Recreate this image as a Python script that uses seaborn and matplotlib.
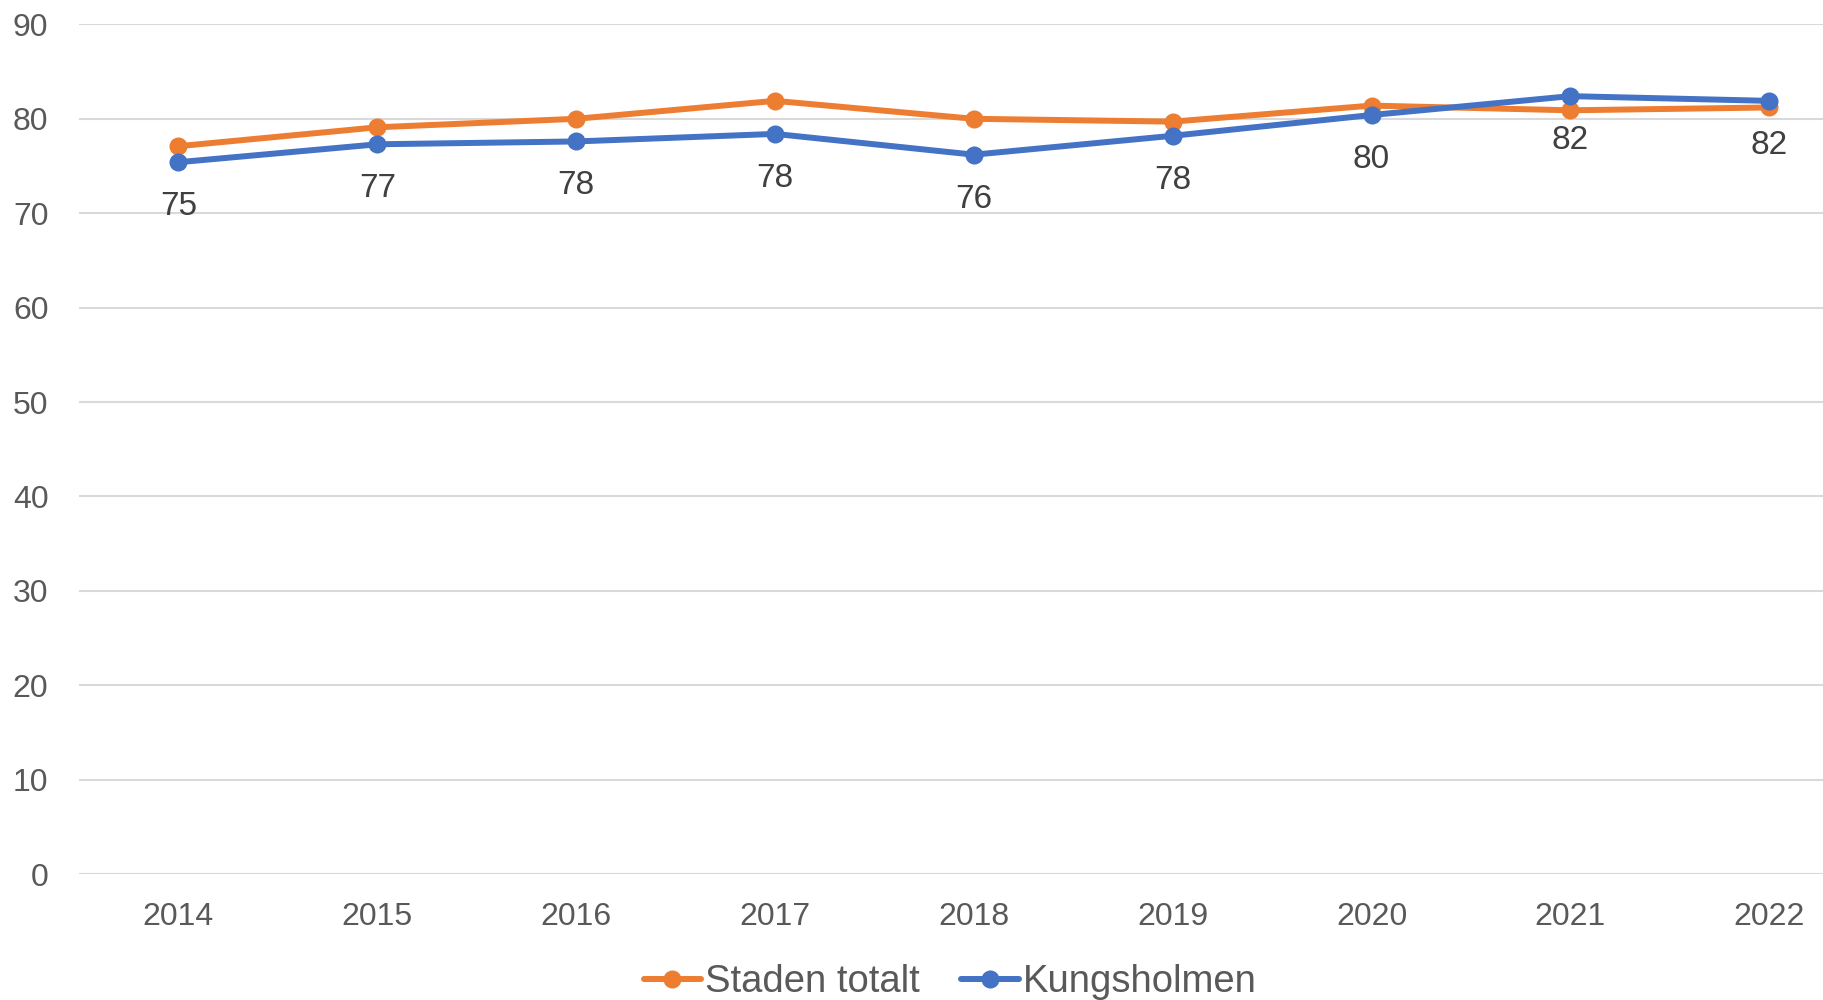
import pandas as pd
import matplotlib.pyplot as plt
import seaborn as sns

# ---------- DATA ----------
years = [2014, 2015, 2016, 2017, 2018, 2019, 2020, 2021, 2022]
staden_totalt = [77.1, 79.1, 80.0, 81.9, 80.0, 79.7, 81.4, 80.9, 81.2]
kungsholmen = [75.4, 77.3, 77.6, 78.4, 76.2, 78.2, 80.4, 82.4, 81.9]
series_names = ['Staden totalt', 'Kungsholmen']
colors = ['#ED7D31', '#4472C4']

# ---------- STYLE ----------
sns.set_style('white')
plt.rcParams['font.family'] = ['Liberation Sans', 'DejaVu Sans']

df = pd.DataFrame({
    'year': years * 2,
    'value': staden_totalt + kungsholmen,
    'serie': [series_names[0]] * len(years) + [series_names[1]] * len(years),
})

fig = plt.figure(figsize=(18.23, 10), dpi=100)
ax = fig.add_axes([79 / 1823, 0.126, 1 - 79 / 1823, 0.8496])

sns.lineplot(data=df, x='year', y='value', hue='serie', hue_order=series_names,
             palette=colors, marker='o', markersize=13, markeredgewidth=0,
             linewidth=4.3, ax=ax, legend=True)

# data labels under Kungsholmen
for x, v in zip(years, kungsholmen):
    ax.annotate(f'{round(v)}', (x, v), xytext=(0, -32), textcoords='offset points',
                ha='center', va='center', fontsize=24, color='#404040')

ax.set_ylim(0, 90)
ax.set_yticks(range(0, 91, 10))
ax.set_xlim(2013.5, 2014 + (1823 - 178) / 198.9)
ax.set_xticks(years)
ax.set_xticklabels([str(y) for y in years])
ax.set_xlabel('')
ax.set_ylabel('')
ax.grid(axis='y', color='#D9D9D9', linewidth=1.5)
ax.grid(axis='x', visible=False)
for s in ax.spines.values():
    s.set_visible(False)
ax.tick_params(axis='y', labelsize=23, labelcolor='#595959', pad=22, length=0)
ax.tick_params(axis='x', labelsize=23, labelcolor='#595959', pad=20, length=0)

handles, labels = ax.get_legend_handles_labels()
ax.legend(handles, labels, loc='center', bbox_to_anchor=(950 / 1823, 0.018),
          bbox_transform=fig.transFigure, ncol=2, frameon=False, fontsize=27.5,
          handlelength=1.5, handletextpad=0.1, columnspacing=1.1,
          labelcolor='#595959')

fig.savefig('out.png', dpi=100)
